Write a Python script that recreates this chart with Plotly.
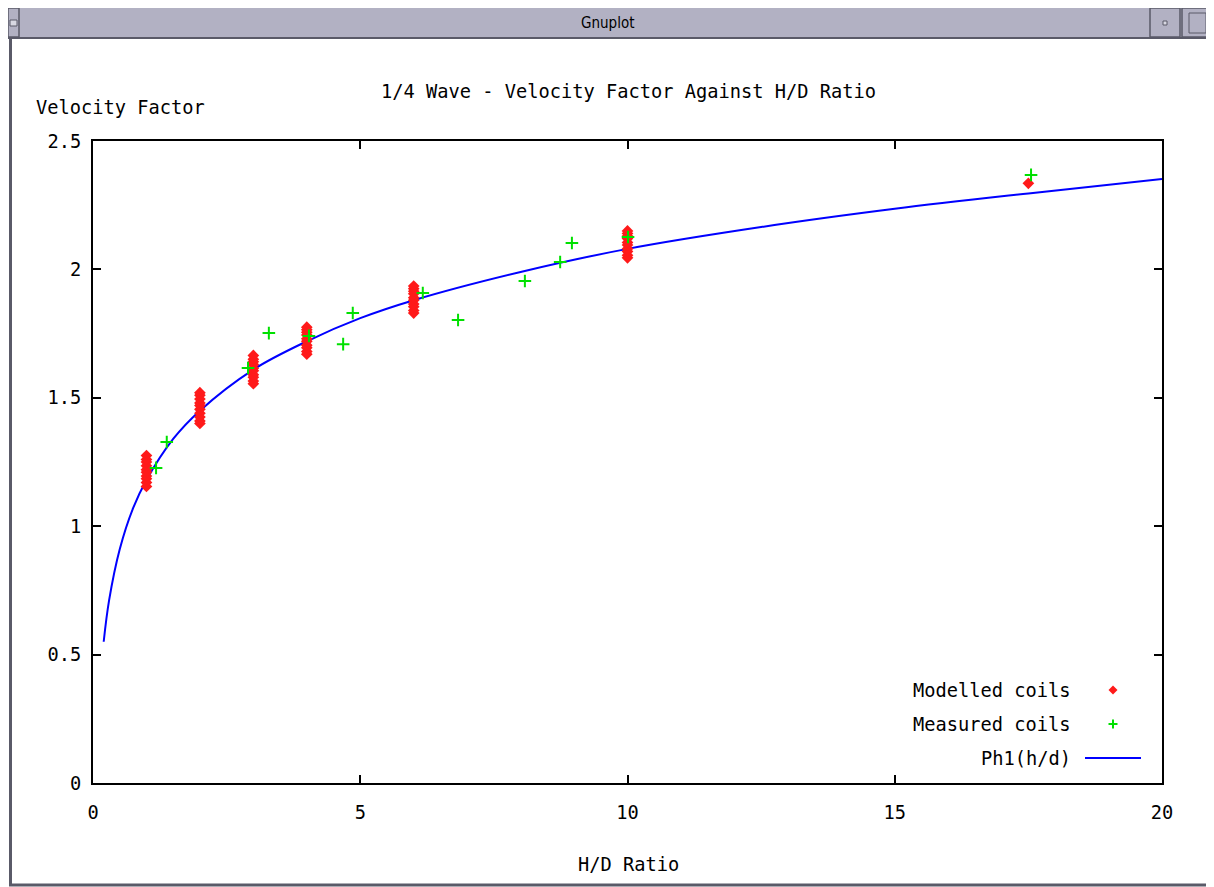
import plotly.graph_objects as go

# ---- data ----
modelled_x = [1]*10 + [2]*10 + [3]*10 + [4]*10 + [6]*10 + [10]*10 + [17.5]
modelled_y = [1.155, 1.17, 1.185, 1.195, 1.21, 1.22, 1.235, 1.25, 1.26, 1.275,
              1.40, 1.41, 1.425, 1.44, 1.455, 1.47, 1.48, 1.495, 1.51, 1.52,
              1.555, 1.565, 1.58, 1.59, 1.605, 1.615, 1.63, 1.64, 1.65, 1.665,
              1.67, 1.68, 1.695, 1.705, 1.72, 1.73, 1.745, 1.755, 1.765, 1.775,
              1.83, 1.84, 1.855, 1.865, 1.88, 1.89, 1.905, 1.915, 1.925, 1.935,
              2.045, 2.055, 2.07, 2.08, 2.095, 2.105, 2.12, 2.13, 2.14, 2.15,
              2.335]

measured_x = [1.18, 1.38, 2.90, 3.29, 4.04, 4.68, 4.86, 6.17, 6.83, 8.08, 8.74, 8.96, 10.01, 17.55]
measured_y = [1.227, 1.328, 1.616, 1.752, 1.741, 1.709, 1.830, 1.908, 1.803, 1.955, 2.029, 2.103, 2.126, 2.368]

curve_x = [0.2, 0.3, 0.5, 0.75, 1, 1.5, 2, 3, 4, 5, 6, 8, 10, 12.5, 15, 17.5, 20]
curve_y = [0.55, 0.71, 0.91, 1.07, 1.18, 1.34, 1.45, 1.61, 1.72, 1.81, 1.88, 1.99, 2.08, 2.165, 2.236, 2.296, 2.352]

x_ticks = [0, 5, 10, 15, 20]
y_ticks = [0, 0.5, 1, 1.5, 2, 2.5]
y_tick_text = ["0", "0.5", "1", "1.5", "2", "2.5"]

title_text = "1/4 Wave - Velocity Factor Against H/D Ratio"
legend_names = ["Modelled coils", "Measured coils", "Ph1(h/d)"]

# ---- layout geometry (page pixels; the page body adds an 8px offset) ----
OFF = 8
W, H = 1214 - OFF, 887 - OFF
L, R, T, B = 93, 1162, 141, 783
PW, PH = R - L, B - T


def px(x):
    return (x - L) / PW


def py(y):
    return (B - y) / PH


MONO = "DejaVu Sans Mono"
FS = 18.7

fig = go.Figure()
fig.add_trace(go.Scatter(x=curve_x, y=curve_y, mode="lines", line_shape="spline",
                         line=dict(color="#0000ff", width=2), name=legend_names[2],
                         showlegend=False))
fig.add_trace(go.Scatter(x=modelled_x, y=modelled_y, mode="markers", name=legend_names[0],
                         marker=dict(symbol="diamond", size=9, color="#ff1a1a",
                                     line=dict(width=0)), showlegend=False))
fig.add_trace(go.Scatter(x=measured_x, y=measured_y, mode="markers", name=legend_names[1],
                         marker=dict(symbol="cross-thin", size=9,
                                     line=dict(width=2, color="#00e000")), showlegend=False))

axis_common = dict(showline=True, linecolor="black", linewidth=2, mirror="ticks",
                   ticks="inside", ticklen=8, tickwidth=2, tickcolor="black",
                   showgrid=False, zeroline=False,
                   tickfont=dict(family=MONO, size=FS, color="black"))

fig.update_xaxes(range=[0, 20], tickvals=x_ticks, ticklabelstandoff=12, **axis_common)
fig.update_yaxes(range=[0, 2.5], tickvals=y_ticks, ticktext=y_tick_text,
                 ticklabelstandoff=6, **axis_common)

shapes = []
annotations = []

# window chrome
bar_col = "#b2b1c3"
edge = "#5a5a68"
shapes.append(dict(type="rect", xref="paper", yref="paper", x0=px(8), x1=px(1212),
                   y0=py(38), y1=py(7), fillcolor=bar_col, line=dict(color=edge, width=2),
                   layer="below"))
for (a, b) in [(8, 19), (1150, 1180), (1182, 1212)]:
    shapes.append(dict(type="rect", xref="paper", yref="paper", x0=px(a), x1=px(b),
                       y0=py(37), y1=py(8), fillcolor=bar_col,
                       line=dict(color=edge, width=1.5), layer="below"))
shapes.append(dict(type="rect", xref="paper", yref="paper", x0=px(10), x1=px(17),
                   y0=py(26), y1=py(20), fillcolor="#d8d8e2",
                   line=dict(color=edge, width=1), layer="below"))
shapes.append(dict(type="rect", xref="paper", yref="paper", x0=px(1163), x1=px(1167),
                   y0=py(25), y1=py(21), fillcolor="#d8d8e2",
                   line=dict(color=edge, width=1), layer="below"))
shapes.append(dict(type="rect", xref="paper", yref="paper", x0=px(1189), x1=px(1206),
                   y0=py(33), y1=py(13), fillcolor=bar_col,
                   line=dict(color=edge, width=1), layer="below"))
shapes.append(dict(type="line", xref="paper", yref="paper", x0=px(10.5), x1=px(10.5),
                   y0=py(38), y1=py(885), line=dict(color=edge, width=3)))
shapes.append(dict(type="line", xref="paper", yref="paper", x0=px(1211.5), x1=px(1211.5),
                   y0=py(38), y1=py(885), line=dict(color=edge, width=2)))
shapes.append(dict(type="line", xref="paper", yref="paper", x0=px(9), x1=px(1212),
                   y0=py(885), y1=py(885), line=dict(color=edge, width=3)))
annotations.append(dict(text="Gnuplot", xref="paper", yref="paper", x=px(607), y=py(23),
                        showarrow=False, xanchor="center", yanchor="middle",
                        font=dict(family="DejaVu Sans Condensed, DejaVu Sans", size=15, color="black")))

# titles
annotations.append(dict(text=title_text, xref="paper", yref="paper", x=px(628), y=py(91),
                        showarrow=False, xanchor="center", yanchor="middle",
                        font=dict(family=MONO, size=FS, color="black")))
annotations.append(dict(text="Velocity Factor", xref="paper", yref="paper", x=px(34), y=py(107),
                        showarrow=False, xanchor="left", yanchor="middle",
                        font=dict(family=MONO, size=FS, color="black")))
annotations.append(dict(text="H/D Ratio", xref="paper", yref="paper", x=px(628), y=py(865),
                        showarrow=False, xanchor="center", yanchor="middle",
                        font=dict(family=MONO, size=FS, color="black")))

# gnuplot-style legend (text right-aligned, key to the right)
leg_y = [690, 724, 758]
for name, yy in zip(legend_names, leg_y):
    annotations.append(dict(text=name, xref="paper", yref="paper", x=px(1073), y=py(yy),
                            showarrow=False, xanchor="right", yanchor="middle",
                            font=dict(family=MONO, size=FS, color="black")))
cx, cy = 1113, leg_y[0]
shapes.append(dict(type="path", xref="paper", yref="paper",
                   path=f"M {px(cx-4.5)},{py(cy)} L {px(cx)},{py(cy-4.5)} L {px(cx+4.5)},{py(cy)} L {px(cx)},{py(cy+4.5)} Z",
                   fillcolor="#ff1a1a", line=dict(width=0)))
cx, cy = 1113, leg_y[1]
shapes.append(dict(type="line", xref="paper", yref="paper", x0=px(cx-4.5), x1=px(cx+4.5),
                   y0=py(cy), y1=py(cy), line=dict(color="#00e000", width=2)))
shapes.append(dict(type="line", xref="paper", yref="paper", x0=px(cx), x1=px(cx),
                   y0=py(cy-4.5), y1=py(cy+4.5), line=dict(color="#00e000", width=2)))
shapes.append(dict(type="line", xref="paper", yref="paper", x0=px(1085), x1=px(1141),
                   y0=py(leg_y[2]), y1=py(leg_y[2]), line=dict(color="#0000ff", width=2)))

fig.update_layout(width=W, height=H,
                  margin=dict(l=L - OFF, r=W - (R - OFF), t=T - OFF, b=H - (B - OFF), pad=0),
                  paper_bgcolor="white", plot_bgcolor="white",
                  shapes=shapes, annotations=annotations, showlegend=False)

fig.write_html("out.html")
